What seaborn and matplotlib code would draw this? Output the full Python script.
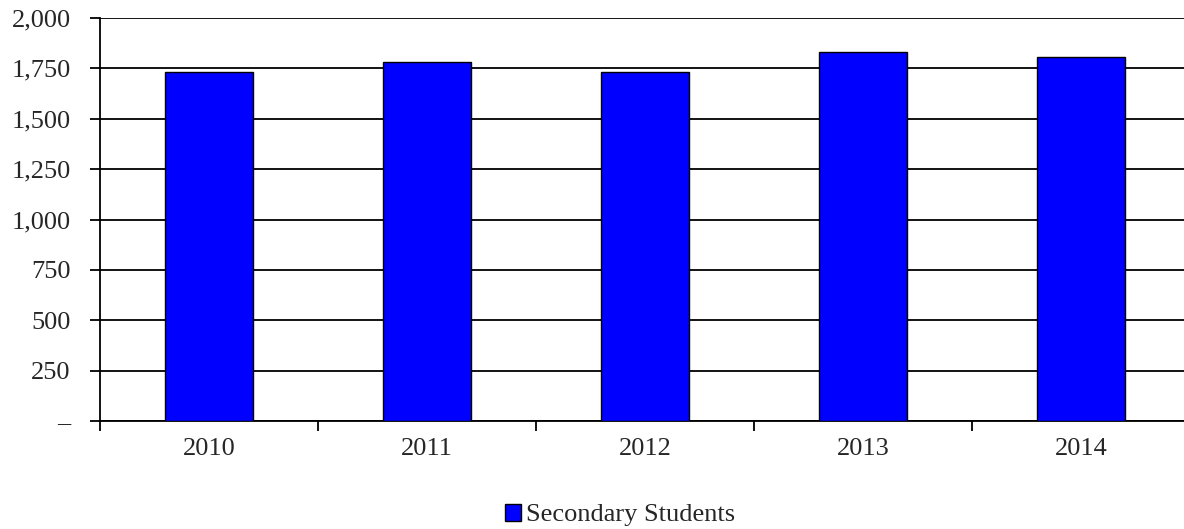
import matplotlib
matplotlib.use("Agg")
import matplotlib.pyplot as plt
import seaborn as sns
import pandas as pd
from matplotlib.ticker import FixedLocator, FuncFormatter

years = ["2010", "2011", "2012", "2013", "2014"]
students = [1734, 1781, 1734, 1829, 1806]
series_name = "Secondary Students"
yticks = [0, 250, 500, 750, 1000, 1250, 1500, 1750, 2000]

sns.set_style("white")
plt.rcParams['font.family'] = ['Liberation Serif', 'DejaVu Serif']

fig = plt.figure(figsize=(11.84, 5.29), dpi=100)
ax = fig.add_axes([100/1184, 1 - 421/529, 1090/1184, 403/529])

df = pd.DataFrame({"Year": years, "Students": students})
sns.barplot(data=df, x="Year", y="Students", color="#0000FF", saturation=1,
            edgecolor="black", linewidth=1.0, width=0.4, ax=ax,
            label=series_name, zorder=3)
handles, labels = ax.get_legend_handles_labels()
if ax.get_legend() is not None:
    ax.get_legend().remove()

ax.set_ylim(0, 2000)
ax.set_xlim(-0.5, 4.5)
ax.set_yticks(yticks)
ax.yaxis.set_major_formatter(FuncFormatter(lambda v, p: "–" if v == 0 else f"{int(v):,}"))
ax.grid(axis="y", color="black", linewidth=1.3, zorder=0)
ax.grid(axis="x", visible=False)
ax.set_xlabel("")
ax.set_ylabel("")

for s in ["top", "right"]:
    ax.spines[s].set_visible(False)
for s in ["left", "bottom"]:
    ax.spines[s].set_color("black")
    ax.spines[s].set_linewidth(1.3)

ax.tick_params(axis="y", which="major", direction="out", length=7.2, width=1.3,
               color="black", labelsize=19, pad=14, left=True)
ax.tick_params(axis="x", which="major", length=0, labelsize=19, pad=12)
ax.xaxis.set_minor_locator(FixedLocator([-0.5, 0.5, 1.5, 2.5, 3.5]))
ax.tick_params(axis="x", which="minor", direction="out", length=7.2, width=1.3,
               color="black", bottom=True)

fig.legend(handles, labels, loc="center", bbox_to_anchor=(620/1184, 1 - 515/529),
           frameon=False, fontsize=19, handlelength=0.62, handleheight=0.62,
           handletextpad=0.2, borderaxespad=0, borderpad=0)

fig.savefig("out.png", dpi=100)
